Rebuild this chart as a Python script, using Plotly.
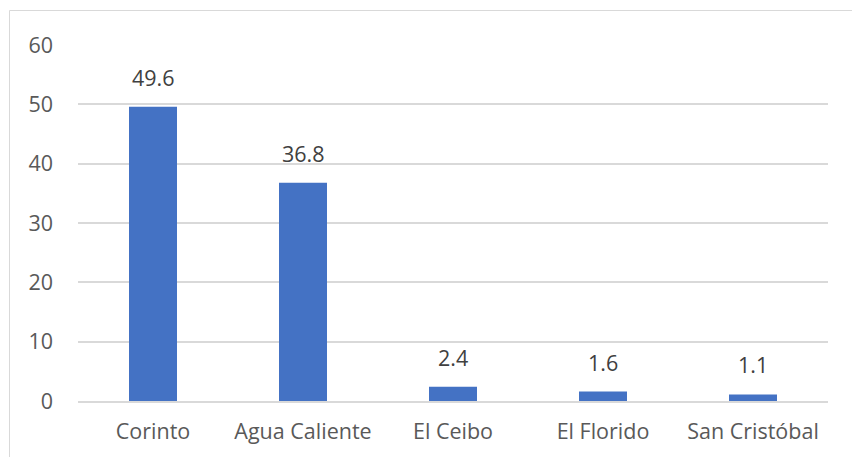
import plotly.graph_objects as go

categories = ["Corinto", "Agua Caliente", "El Ceibo", "El Florido", "San Cristóbal"]
values = [49.6, 36.8, 2.4, 1.6, 1.1]
value_labels = ["49.6", "36.8", "2.4", "1.6", "1.1"]
y_ticks = [0, 10, 20, 30, 40, 50, 60]

W, H = 852, 457
L, R, T, B = 78, 24, 45, 56
pw, ph = W - L - R, H - T - B

font = "Open Sans, Noto Sans, sans-serif"
txt = "#595959"
fs = 21.5

fig = go.Figure(go.Bar(x=categories, y=values, marker_color="#4472C4",
                       marker_line_width=0, hoverinfo="skip"))

for c, v, s in zip(categories, values, value_labels):
    fig.add_annotation(x=c, y=v, text=s, showarrow=False, yanchor="bottom",
                       yshift=13, font=dict(family=font, size=fs, color="#404040"))

fig.add_shape(type="rect", xref="paper", yref="paper",
              x0=(9.5 - L) / pw, x1=1.1, y0=-0.3, y1=1 + (T - 10.5) / ph,
              line=dict(color="#D9D9D9", width=1), fillcolor="rgba(0,0,0,0)",
              layer="below")

fig.update_layout(
    width=W, height=H, margin=dict(l=L, r=R, t=T, b=B),
    paper_bgcolor="white", plot_bgcolor="white", showlegend=False,
    bargap=0.68,
    font=dict(family=font, size=fs, color=txt),
    xaxis=dict(showgrid=False, showline=True, linecolor="#D9D9D9", linewidth=1.5,
               ticks="", ticklabelstandoff=10, tickfont=dict(size=fs, color=txt)),
    yaxis=dict(range=[0, 60], tickvals=y_ticks, showgrid=True, gridcolor="#D9D9D9",
               gridwidth=1.5, zeroline=False, showline=False, ticks="",
               ticklabelstandoff=24, tickfont=dict(size=fs, color=txt)),
)

fig.write_html("out.html", config={"displayModeBar": False},
               post_script="document.body.style.margin='0';document.body.style.overflow='hidden';")
